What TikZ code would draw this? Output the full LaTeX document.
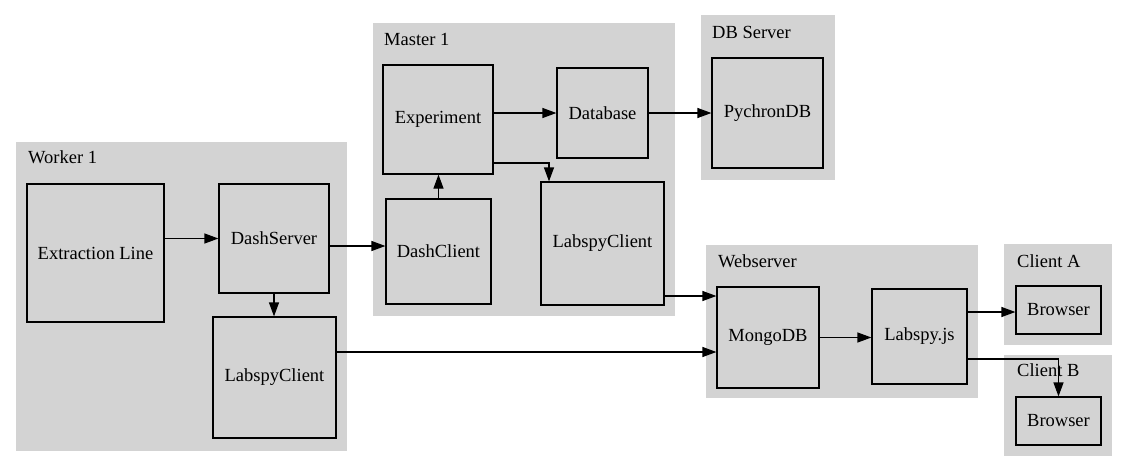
\documentclass[tikz,border=0pt]{standalone}
\usepackage{fontspec}
\setmainfont{Liberation Serif}
\usetikzlibrary{arrows.meta}
\definecolor{lgrey}{RGB}{211,211,211}
\begin{document}
\begin{tikzpicture}[x=1pt,y=-1pt,
  every node/.style={font=\fontsize{18.5pt}{22pt}\selectfont},
  box/.style={draw=black, line width=1.2pt, fill=lgrey, rectangle, inner sep=0pt},
  cluster/.style={fill=lgrey, draw=none},
  clabel/.style={anchor=west, inner sep=0pt},
  conn/.style={draw=black, line width=1.2pt, -{Triangle[length=14pt,width=10pt]}}
]
\useasboundingbox (0,0) rectangle (1128,472);
\fill[white] (0,0) rectangle (1128,472);
% clusters
\fill[cluster] (16,142) rectangle (347,451);
\fill[cluster] (373,23) rectangle (675,316);
\fill[cluster] (701,15) rectangle (835,180);
\fill[cluster] (706,245) rectangle (978,398);
\fill[cluster] (1004,244) rectangle (1112,345);
\fill[cluster] (1004,355) rectangle (1112,456);
\node[clabel] (lw) at (28,157) {Worker 1};
\node[clabel] (lm) at (384,39) {Master 1};
\node[clabel] (ld) at (712,32) {DB Server};
\node[clabel] (lwb) at (718,261) {Webserver};
\node[clabel] (lca) at (1017,261) {Client A};
\node[clabel] (lcb) at (1017,370) {Client B};
% nodes
\node[box, minimum width=137pt, minimum height=138pt] (ext) at (95.5,253) {Extraction Line};
\node[box, minimum width=110pt, minimum height=109pt] (dserv) at (274,238.5) {DashServer};
\node[box, minimum width=123pt, minimum height=121pt] (lcw) at (274.5,377.5) {LabspyClient};
\node[box, minimum width=110pt, minimum height=109pt] (exp) at (438,119.5) {Experiment};
\node[box, minimum width=91pt, minimum height=90pt] (db) at (602.5,113) {Database};
\node[box, minimum width=105pt, minimum height=105pt] (dcl) at (438.5,251.5) {DashClient};
\node[box, minimum width=123pt, minimum height=123pt] (lcm) at (602.5,243.5) {LabspyClient};
\node[box, minimum width=111pt, minimum height=110pt] (pdb) at (767.5,113) {PychronDB};
\node[box, minimum width=102pt, minimum height=101pt] (mongo) at (768,337.5) {MongoDB};
\node[box, minimum width=95pt, minimum height=95pt] (ljs) at (919.5,336.5) {Labspy.js};
\node[box, minimum width=85pt, minimum height=48pt] (bra) at (1058.5,310) {Browser};
\node[box, minimum width=85pt, minimum height=48pt] (brb) at (1058.5,421) {Browser};
% connectors
\draw[conn] (ext.east |- dserv.west) -- (dserv.west);
\draw[conn] (dserv.east |- 0,246) -- (dcl.west |- 0,246);
\draw[conn] (dserv.south) -- (dserv.south |- lcw.north);
\draw[conn] (dcl.north) -- (dcl.north |- exp.south);
\draw[conn] (exp.east |- db.west) -- (db.west);
\draw[conn] (db.east) -- (pdb.west);
\draw[conn] (exp.east |- 0,163) -| ([xshift=-53.5pt]lcm.north);
\draw[conn] (lcm.east |- 0,296) -- (mongo.west |- 0,296);
\draw[conn] (lcw.east |- 0,352) -- (mongo.west |- 0,352);
\draw[conn] (mongo.east) -- (ljs.west |- mongo.east);
\draw[conn] (ljs.east |- 0,312) -- (bra.west |- 0,312);
\draw[conn] (ljs.east |- 0,359) -| (brb.north);
\end{tikzpicture}
\end{document}
